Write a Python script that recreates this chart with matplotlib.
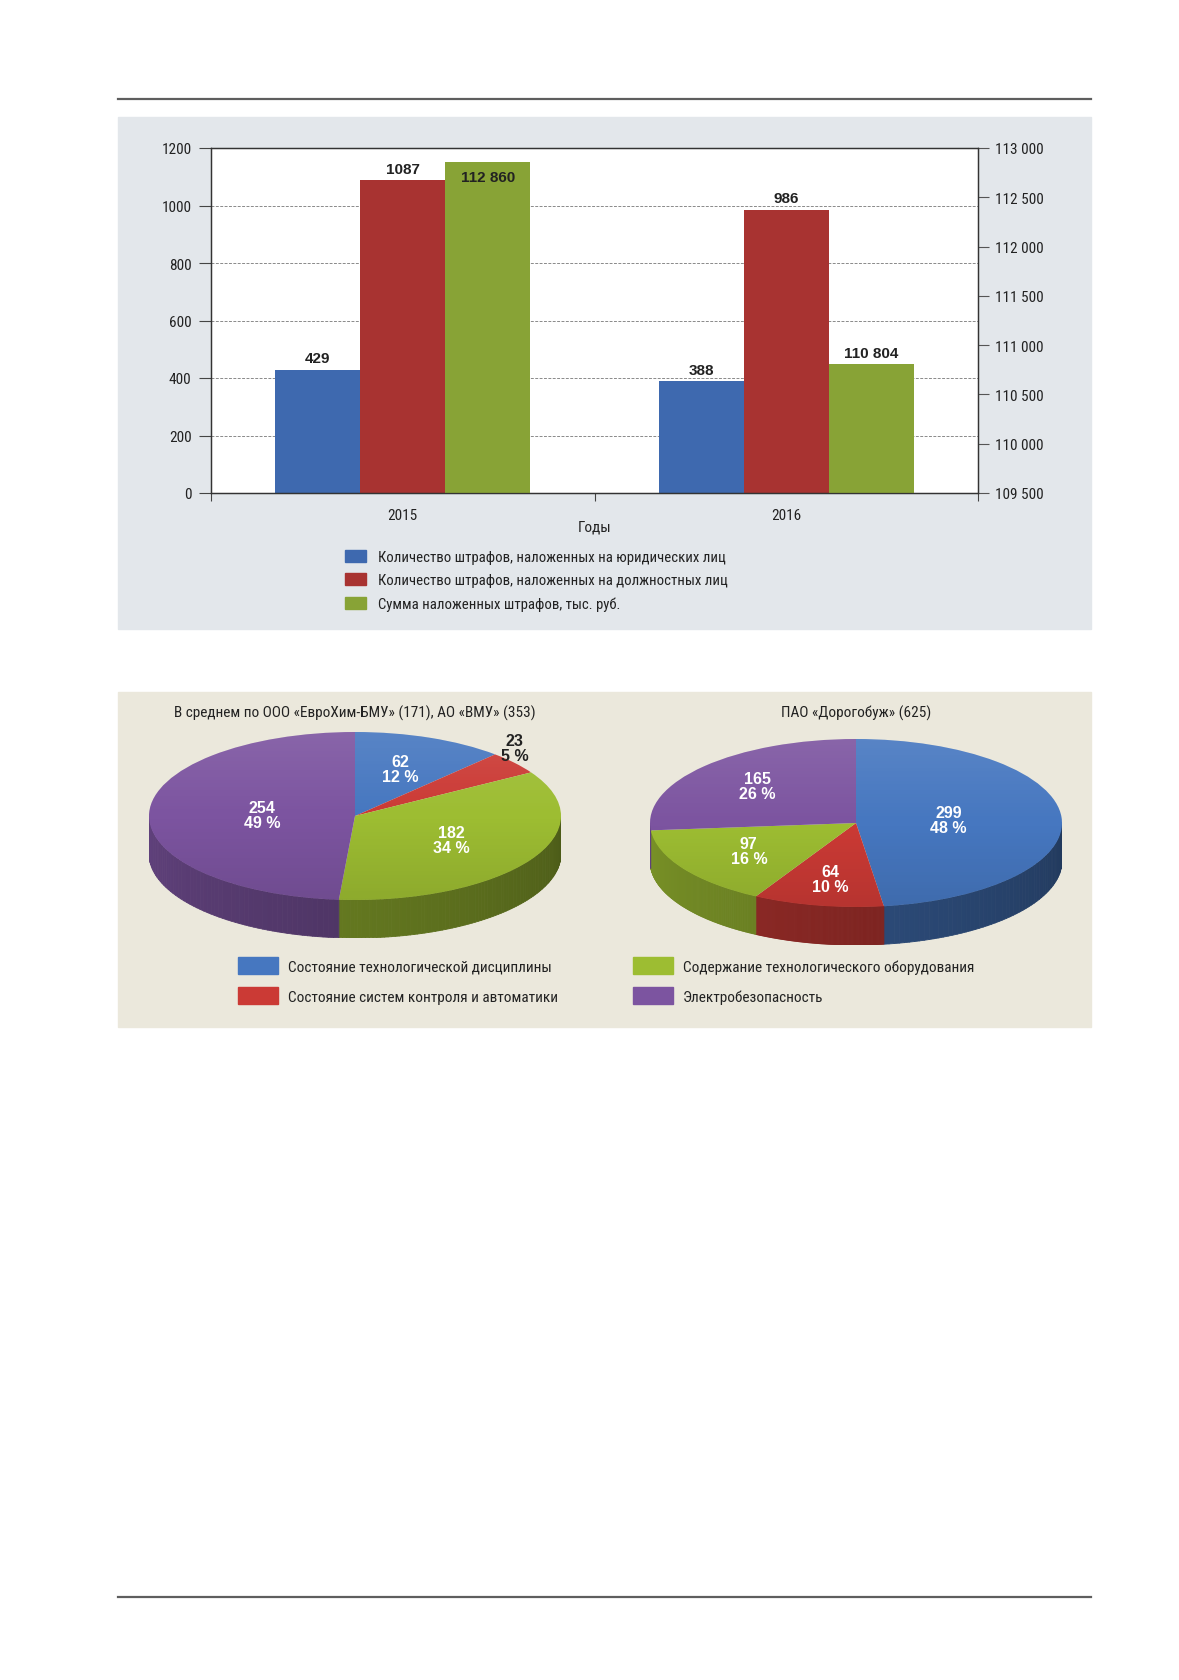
import numpy as np
import matplotlib
matplotlib.use("Agg")
import matplotlib.pyplot as plt
from matplotlib import font_manager
from matplotlib.patches import Rectangle, Patch, Circle
from matplotlib.lines import Line2D
from matplotlib.collections import PolyCollection
from matplotlib.colors import to_rgb

# --- данные: штрафы ---
years = ["2015", "2016"]
fines_legal = [429, 388]
fines_officials = [1087, 986]
fines_sum = [112860, 110804]
bar_legend = [
    "Количество штрафов, наложенных на юридических лиц",
    "Количество штрафов, наложенных на должностных лиц",
    "Сумма наложенных штрафов, тыс. руб.",
]

# --- данные: нарушения ---
pie_categories = [
    "Состояние технологической дисциплины",
    "Состояние систем контроля и автоматики",
    "Содержание технологического оборудования",
    "Электробезопасность",
]
left_title = "В среднем по ООО «ЕвроХим-БМУ» (171), АО «ВМУ» (353)"
left_values = [62, 23, 182, 254]
left_pct = ["12 %", "5 %", "34 %", "49 %"]
right_title = "ПАО «Дорогобуж» (625)"
right_values = [299, 64, 97, 165]
right_pct = ["48 %", "10 %", "16 %", "26 %"]

names = {f.name for f in font_manager.fontManager.ttflist}
NARROW = next((n for n in ["Roboto Condensed", "Fira Sans Condensed",
                           "IBM Plex Sans Condensed", "DejaVu Sans Condensed"] if n in names),
              "Liberation Sans")
NARROW = [NARROW, "DejaVu Sans"]
BOLD = ["Liberation Sans", "DejaVu Sans"]

BAR_COLORS = ["#3e69af", "#a83331", "#88a336"]
PIE_COLORS = ["#4677c0", "#cb3a35", "#9dbd32", "#7c54a0"]
TXT = "#222222"

W, H = 1179, 1681
fig = plt.figure(figsize=(W / 100, H / 100), dpi=100)


def px_axes(x0, y0, x1, y1):
    return fig.add_axes([x0 / W, 1 - y1 / H, (x1 - x0) / W, (y1 - y0) / H])


def px(x, y):
    return x / W, 1 - y / H


# фон и линейки
fig.add_artist(Rectangle(px(118, 630), 973 / W, 512 / H, transform=fig.transFigure,
                         color="#e3e7eb", zorder=0))
fig.add_artist(Rectangle(px(118, 1028), 973 / W, 335 / H, transform=fig.transFigure,
                         color="#ebe8dc", zorder=0))
for yy in (100, 1598):
    fig.add_artist(Line2D([118 / W, 1091 / W], [1 - yy / H] * 2, color="#5e5e5e", lw=1.6))

# ---------------- столбчатая диаграмма ----------------
ax = px_axes(211, 149, 978, 494)
x = np.arange(len(years))
bw = 0.222
ax.bar(x - bw, fines_legal, bw, color=BAR_COLORS[0], zorder=2)
ax.bar(x, fines_officials, bw, color=BAR_COLORS[1], zorder=2)
ax.set_xlim(-0.5, 1.5)
ax.set_ylim(0, 1200)
ax.set_yticks(range(0, 1201, 200))
ax.grid(axis="y", ls=(0, (3, 1.5)), color="#8a8a8a", lw=0.7)
ax.set_axisbelow(True)
for s in ax.spines.values():
    s.set_color("#333333")
    s.set_linewidth(0.9)
ax.tick_params(axis="y", length=9, width=0.8, color="#444444", pad=5, labelsize=11,
               labelcolor=TXT, labelfontfamily=NARROW)
ax.set_xticks([-0.5, 0.5, 1.5])
ax.set_xticklabels([])
ax.tick_params(axis="x", which="major", length=6, width=0.8, color="#444444")
ax.set_xticks(x, years, minor=True)
ax.tick_params(axis="x", which="minor", length=0, pad=11, labelsize=11,
               labelcolor=TXT, labelfontfamily=NARROW)
ax.set_xlabel("Годы", fontsize=11, family=NARROW, color=TXT, labelpad=-2)

ax2 = ax.twinx()
ax2.bar(x + bw, fines_sum, bw, color=BAR_COLORS[2], zorder=2)
ax2.set_ylim(109500, 113000)
ax2.set_yticks(range(109500, 113001, 500))
ax2.set_yticklabels([f"{v:,}".replace(",", " ") for v in range(109500, 113001, 500)])
ax2.tick_params(axis="y", length=8, width=0.8, color="#555555", pad=4.5, labelsize=11,
                labelcolor=TXT, labelfontfamily=NARROW)
for s in ax2.spines.values():
    s.set_color("#333333")
    s.set_linewidth(0.9)

lab = dict(ha="center", fontsize=11, fontweight="bold", family=BOLD, color=TXT,
           textcoords="offset points")
for xi, v in zip(x - bw, fines_legal):
    ax.annotate(str(v), (xi, v), xytext=(0, 3), va="bottom", **lab)
for xi, v in zip(x, fines_officials):
    ax.annotate(str(v), (xi, v), xytext=(0, 3), va="bottom", **lab)
for xi, v in zip(x + bw, fines_sum):
    txt = f"{v:,}".replace(",", " ")
    if v > 112700:
        ax2.annotate(txt, (xi, v), xytext=(0, -6), va="top", **lab)
    else:
        ax2.annotate(txt, (xi, v), xytext=(0, 3), va="bottom", **lab)

fig.legend([Patch(color=c) for c in BAR_COLORS], bar_legend,
           loc="upper left", bbox_to_anchor=px(345, 551), frameon=False,
           borderpad=0, borderaxespad=0, handlelength=1.42, handleheight=0.88,
           handletextpad=0.8, labelspacing=0.62,
           prop=dict(family=NARROW, size=10.6), labelcolor=TXT)


# ---------------- круговые диаграммы ----------------
def draw_pie(cx, cy, title, values, pcts, label_r):
    a, b, depth = 206, 84, 38
    pa = px_axes(cx - a, cy - b, cx + a, cy + b + depth)
    wedges, _ = pa.pie(values, colors=PIE_COLORS, startangle=90, counterclock=False,
                       wedgeprops=dict(linewidth=0))
    pa.set_aspect("auto")
    pa.set_xlim(-1, 1)
    d = depth / b
    pa.set_ylim(-1 - d, 1)
    pa.axis("off")

    # боковая стенка (передняя половина)
    polys, cols = [], []
    for w, c in zip(wedges, PIE_COLORS):
        w.set_zorder(3)
        t = np.linspace(w.theta1, w.theta2, 120)
        base = np.array(to_rgb(c))
        for t0, t1 in zip(t[:-1], t[1:]):
            tm = np.deg2rad(0.5 * (t0 + t1))
            if np.sin(tm) >= 0:
                continue
            r0, r1 = np.deg2rad(t0), np.deg2rad(t1)
            polys.append([(np.cos(r0), np.sin(r0)), (np.cos(r1), np.sin(r1)),
                          (np.cos(r1), np.sin(r1) - d), (np.cos(r0), np.sin(r0) - d)])
            tn = np.rad2deg(tm) % 360
            f = 0.78 - 0.3 * (tn - 180) / 180
            cols.append(np.clip(base * f, 0, 1))
    pa.add_collection(PolyCollection(polys, facecolors=cols, edgecolors=cols,
                                     linewidths=0.6, zorder=2))

    # лёгкий блик на верхней грани
    gy = np.linspace(1, -1, 100)[:, None] * np.ones((1, 100))
    shade = np.zeros((100, 100, 4))
    shade[..., :3] = np.where(gy[..., None] > 0, 1.0, 0.0)
    shade[..., 3] = np.abs(gy) * 0.10
    im = pa.imshow(shade, extent=(-1, 1, -1, 1), aspect="auto", zorder=4,
                   interpolation="bilinear")
    im.set_clip_path(Circle((0, 0), 1, transform=pa.transData))
    pa.set_xlim(-1, 1)
    pa.set_ylim(-1 - d, 1)

    for w, v, p, r in zip(wedges, values, pcts, label_r):
        tm = np.deg2rad(0.5 * (w.theta1 + w.theta2))
        outside = r >= 1
        pa.text(r * np.cos(tm), r * np.sin(tm), f"{v}\n{p}", ha="center",
                va="bottom" if outside else "center", fontsize=11.5, fontweight="bold",
                family=BOLD, color=TXT if outside else "white", linespacing=1.0,
                zorder=5, clip_on=False)

    fig.text(*px(cx, 713), title, ha="center", va="center", fontsize=11,
             family=NARROW, color=TXT)


draw_pie(355, 817, left_title, left_values, left_pct, [0.6, 1.0, 0.55, 0.45])
draw_pie(856, 824, right_title, right_values, right_pct, [0.45, 0.68, 0.62, 0.65])

leg_kw = dict(loc="upper left", frameon=False, borderpad=0, borderaxespad=0,
              handlelength=2.6, handleheight=1.37, handletextpad=0.65, labelspacing=0.82,
              prop=dict(family=NARROW, size=11), labelcolor=TXT)
fig.legend([Patch(color=c) for c in PIE_COLORS[:2]], pie_categories[:2],
           bbox_to_anchor=px(238, 958), **leg_kw)
fig.legend([Patch(color=c) for c in PIE_COLORS[2:]], pie_categories[2:],
           bbox_to_anchor=px(633, 958), **leg_kw)

fig.savefig("out.png", dpi=100)
